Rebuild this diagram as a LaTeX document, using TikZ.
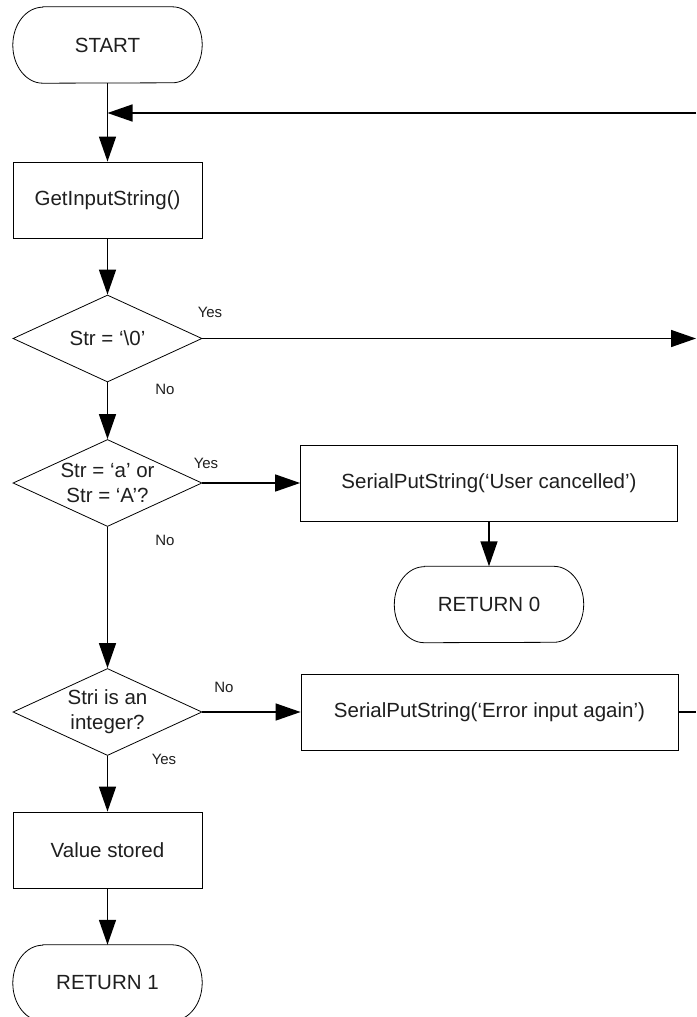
\documentclass[tikz,border=0pt]{standalone}
\usepackage{fontspec}
\setmainfont{Liberation Sans}
\usetikzlibrary{shapes.geometric,arrows.meta}
\begin{document}
\begin{tikzpicture}[x=1pt,y=-1pt,
  every node/.style={font=\fontsize{20.5}{25}\selectfont, text=black!88},
  box/.style={draw=black, line width=0.8pt, minimum width=189pt, minimum height=76pt, inner sep=0pt},
  widebox/.style={box, minimum width=377pt},
  pill/.style={minimum width=189pt, minimum height=76pt, inner sep=0pt},
  dia/.style={draw=black, diamond, line width=0.8pt, minimum width=189pt, minimum height=87pt, inner sep=0pt},
  lbl/.style={font=\fontsize{15}{18}\selectfont},
  conn/.style={line width=1.5pt, -{Triangle[length=25pt,width=17pt]}},
  plainline/.style={line width=1.5pt}]
\fill[white] (0,0) rectangle (696,1017);
\useasboundingbox (0,0) rectangle (696,1017);
\clip (0,0) rectangle (696,1017);

% nodes
\node[pill] (start) at (107.5,45) {START};
\node[box] (getin) at (107.5,200) {GetInputString()};
\node[dia] (d1) at (107.5,338.5) {};
\node (d1t) at (d1.center) {Str = ‘\textbackslash 0’};
\node[dia] (d2) at (107.5,483) {};
\node[align=center] (d2t) at (d2.center) {Str = ‘a’ or\\Str = ‘A’?};
\node[widebox] (cancel) at (489,483.5) {SerialPutString(‘User cancelled’)};
\node[pill] (ret0) at (489,604.5) {RETURN 0};
\node[dia] (d3) at (107.5,712) {};
\node[align=center] (d3t) at (d3.center) {Stri is an\\integer?};
\node[widebox] (err) at (489.5,712) {SerialPutString(‘Error input again’)};
\node[box] (val) at (107.5,850) {Value stored};
\node[pill] (ret1) at (107.5,983) {RETURN 1};

% pill outlines
\foreach \n in {start,ret0,ret1}{
  \draw[line width=0.8pt] ([xshift=30pt]\n.north west) -- ([xshift=-30pt]\n.north east)
    arc[start angle=90,end angle=-90,x radius=30pt,y radius=38pt]
    -- ([xshift=30pt]\n.south west)
    arc[start angle=270,end angle=90,x radius=30pt,y radius=38pt] -- cycle;
}

% connectors
\coordinate (loopR) at (696,113);
\coordinate (yesR) at (696,338.5);
\coordinate (errR) at (696,712);
\draw[conn] (start) -- (getin);
\draw[conn] (loopR) -- (loopR -| start);
\draw[conn] (getin) -- (d1);
\draw[conn] (d1) -- (d2);
\draw[conn] (d2) -- (d3);
\draw[conn] (d3) -- (val);
\draw[conn] (val) -- (ret1);
\draw[conn] (d1.east) -- (yesR);
\draw[conn] (d2.east) -- (d2.east -| cancel.west);
\draw[conn] (cancel) -- (ret0);
\draw[conn] (d3.east) -- (err.west);
\draw[plainline] (err.east) -- (errR);

% branch labels
\node[lbl] (y1) at (210,312) {Yes};
\node[lbl] (n1) at (165,389) {No};
\node[lbl] (y2) at (206,463) {Yes};
\node[lbl] (n2) at (165,540) {No};
\node[lbl] (n3) at (224,687) {No};
\node[lbl] (y3) at (164,759) {Yes};
\end{tikzpicture}
\end{document}
